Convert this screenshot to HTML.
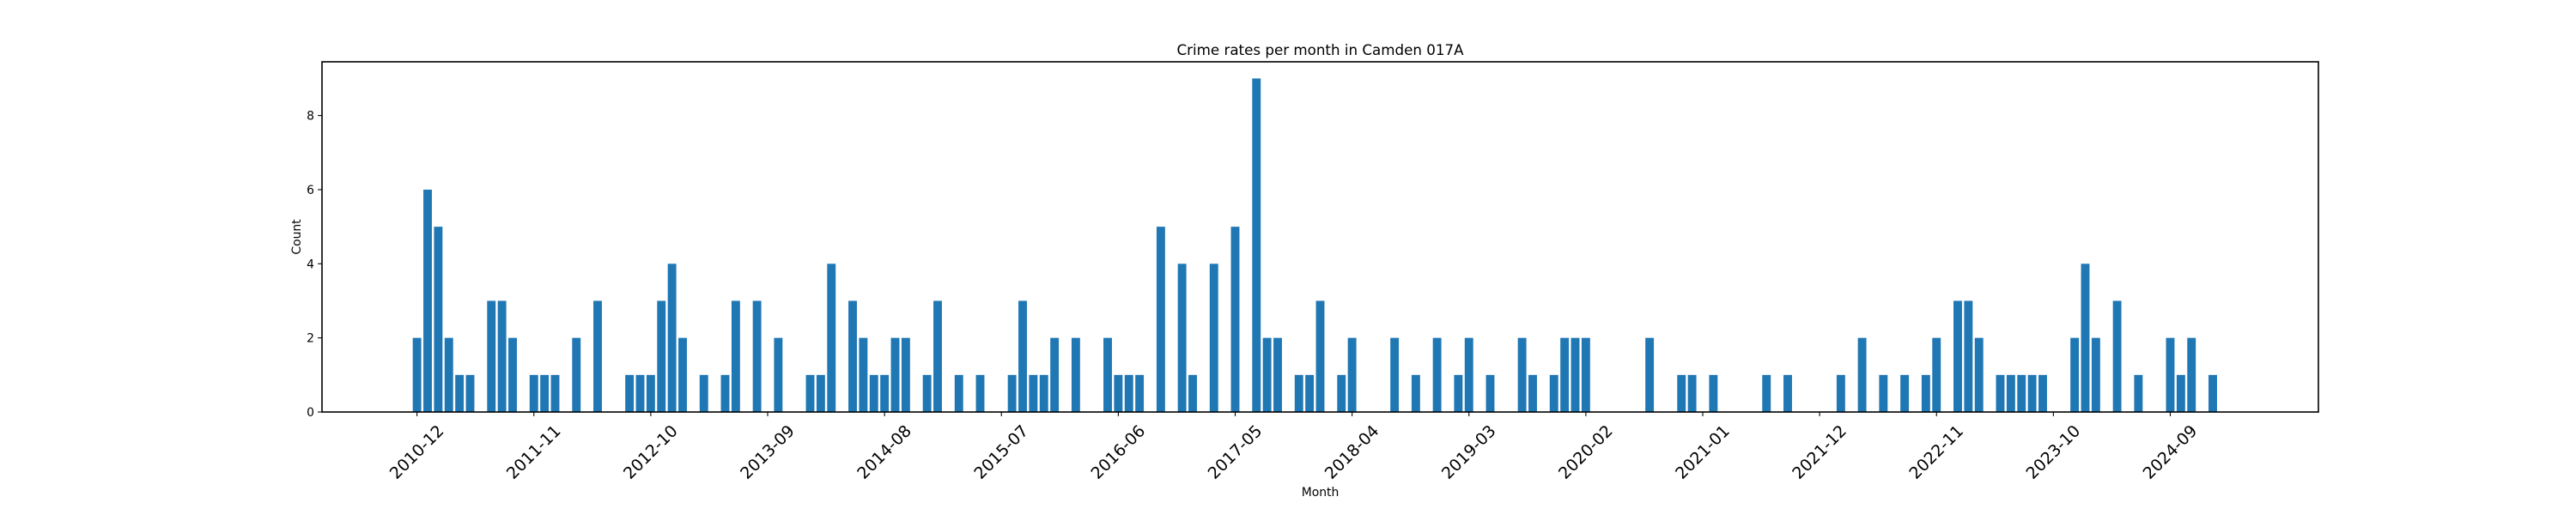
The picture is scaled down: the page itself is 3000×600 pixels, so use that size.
<!DOCTYPE html>
<html><head><meta charset="utf-8"><style>
html,body{margin:0;padding:0;background:#fff;}
svg{display:block;font-family:"DejaVu Sans","Liberation Sans",sans-serif;}
</style></head><body>
<svg id="chart" width="3000" height="600" viewBox="0 0 3000 600" xmlns="http://www.w3.org/2000/svg">
<rect width="3000" height="600" fill="#fff"/>
<text x="1537.5" y="64" text-anchor="middle" font-size="16.7" fill="#000">Crime rates per month in Camden 017A</text>
<g id="bars"></g>
<g id="yaxis"></g>
<g id="xaxis"></g>
<rect x="375" y="72" width="2325" height="408" fill="none" stroke="#000" stroke-width="1.6"/>
<text x="1537.5" y="578" text-anchor="middle" font-size="13.9" fill="#000">Month</text>
<text transform="translate(350,276) rotate(-90)" text-anchor="middle" font-size="13.9" fill="#000">Count</text>
</svg>
<script>
const startYear = 2010;
const startMonth = 12;
const counts = [2,6,5,2,1,1,0,3,3,2,0,1,1,1,0,2,0,3,0,0,
1,1,1,3,4,2,0,1,0,1,3,0,3,0,2,0,0,1,1,4,
0,3,2,1,1,2,2,0,1,3,0,1,0,1,0,0,1,3,1,1,
2,0,2,0,0,2,1,1,1,0,5,0,4,1,0,4,0,5,0,9,
2,2,0,1,1,3,0,1,2,0,0,0,2,0,1,0,2,0,1,2,
0,1,0,0,2,1,0,1,2,2,2,0,0,0,0,0,2,0,0,1,
1,0,1,0,0,0,0,1,0,1,0,0,0,0,1,0,2,0,1,0,
1,0,1,2,0,3,3,2,0,1,1,1,1,1,0,0,2,4,2,0,
3,0,1,0,0,2,1,2,0,1,0];
const yTicks = [0,2,4,6,8];
const xTickLabels = ["2010-12","2011-11","2012-10","2013-09","2014-08","2015-07","2016-06","2017-05","2018-04","2019-03","2020-02","2021-01","2021-12","2022-11","2023-10","2024-09"];

const NS = "http://www.w3.org/2000/svg";
const L = 375, R = 2700, T = 72, B = 480;
const n = counts.length;
const span = (n - 1) + 0.8;
const xMin = -0.4 - 0.05 * span, xMax = (n - 1) + 0.4 + 0.05 * span;
const yMax = Math.max(...counts) * 1.05;
function xScale(i){ return L + (i - xMin) / (xMax - xMin) * (R - L); }
function yScale(v){ return B - v / yMax * (B - T); }
function monthLabel(i){
  const m0 = (startMonth - 1) + i;
  const y = startYear + Math.floor(m0 / 12);
  const m = (m0 % 12) + 1;
  return y + "-" + (m < 10 ? "0" + m : m);
}
const categories = counts.map((_, i) => monthLabel(i));

const barsG = document.getElementById("bars");
const bw = 0.8 * (xScale(1) - xScale(0));
counts.forEach((v, i) => {
  if (v <= 0) return;
  const r = document.createElementNS(NS, "rect");
  r.setAttribute("x", xScale(i) - bw / 2);
  r.setAttribute("y", yScale(v));
  r.setAttribute("width", bw);
  r.setAttribute("height", yScale(0) - yScale(v));
  r.setAttribute("fill", "#1f77b4");
  
  
  barsG.appendChild(r);
});

const yG = document.getElementById("yaxis");
yTicks.forEach(t => {
  const y = yScale(t);
  const ln = document.createElementNS(NS, "line");
  ln.setAttribute("x1", L - 4.9); ln.setAttribute("x2", L);
  ln.setAttribute("y1", y); ln.setAttribute("y2", y);
  ln.setAttribute("stroke", "#000"); ln.setAttribute("stroke-width", "1.1");
  
  
  yG.appendChild(ln);
  const tx = document.createElementNS(NS, "text");
  tx.setAttribute("x", L - 9); tx.setAttribute("y", y + 5);
  tx.setAttribute("text-anchor", "end"); tx.setAttribute("font-size", "13.9");
  tx.textContent = t;
  
  
  yG.appendChild(tx);
});

const xG = document.getElementById("xaxis");
xTickLabels.forEach(lab => {
  const i = categories.indexOf(lab);
  if (i < 0) return;
  const x = xScale(i);
  const ln = document.createElementNS(NS, "line");
  ln.setAttribute("x1", x); ln.setAttribute("x2", x);
  ln.setAttribute("y1", B); ln.setAttribute("y2", B + 4.9);
  ln.setAttribute("stroke", "#000"); ln.setAttribute("stroke-width", "1.1");
  
  
  xG.appendChild(ln);
  const tx = document.createElementNS(NS, "text");
  tx.setAttribute("transform", "translate(" + x + "," + (B + 47) + ") rotate(-45)");
  tx.setAttribute("text-anchor", "middle");
  tx.setAttribute("dominant-baseline", "central");
  tx.setAttribute("font-size", "19");
  tx.textContent = lab;
  
  
  xG.appendChild(tx);
});
</script>
</body></html>
